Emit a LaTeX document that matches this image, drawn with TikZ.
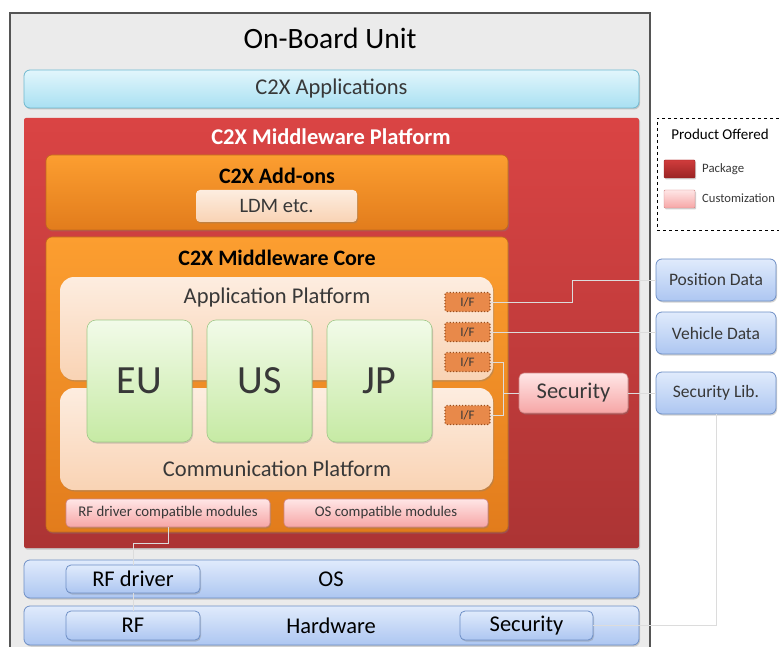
\documentclass[tikz,border=0pt]{standalone}
\usepackage{fontspec}
\setmainfont{Carlito}
\usetikzlibrary{shadows}
\definecolor{txt}{HTML}{383838}
\definecolor{conncol}{HTML}{DCDCDC}
\definecolor{cyanT}{HTML}{E2F6FC}
\definecolor{cyanB}{HTML}{A9E0F2}
\definecolor{cyanD}{HTML}{6FB8CF}
\definecolor{redT}{HTML}{DA4444}
\definecolor{redB}{HTML}{AC3434}
\definecolor{orangeT}{HTML}{FC9E30}
\definecolor{orangeB}{HTML}{E27C1C}
\definecolor{orangeD}{HTML}{C06A1C}
\definecolor{peachT}{HTML}{FDEDE0}
\definecolor{peachB}{HTML}{F9D3B4}
\definecolor{greenT}{HTML}{F2FBE9}
\definecolor{greenB}{HTML}{C6EAA4}
\definecolor{greenD}{HTML}{A0C888}
\definecolor{pinkT}{HTML}{FFE6E6}
\definecolor{pinkB}{HTML}{F6A6A6}
\definecolor{pinkD}{HTML}{D08484}
\definecolor{blueT}{HTML}{E0EBFC}
\definecolor{blueB}{HTML}{ADC6F1}
\definecolor{blueD}{HTML}{6E8FC6}
\definecolor{ifF}{HTML}{E8894A}
\definecolor{ifD}{HTML}{9A4E1C}
\definecolor{obuD}{HTML}{555555}
\definecolor{obuF}{HTML}{EBEBEB}
\definecolor{pkgT}{HTML}{D03C3C}
\definecolor{pkgB}{HTML}{9A2424}
\tikzset{
  box/.style={rounded corners=6pt, inner sep=0pt, outer sep=0pt, text=txt},
  shad/.style={drop shadow={opacity=0.35, shadow xshift=1pt, shadow yshift=-1.5pt}},
  cyanbox/.style={box, shad, draw=cyanD, top color=cyanT, bottom color=cyanB, line width=0.8pt},
  redbox/.style={box, shad, top color=redT, bottom color=redB},
  orangebox/.style={box, shad, draw=orangeD, top color=orangeT, bottom color=orangeB, line width=0.6pt},
  peachbox/.style={box, shad, top color=peachT, bottom color=peachB},
  greenbox/.style={box, shad, draw=greenD, top color=greenT, bottom color=greenB, line width=0.6pt},
  pinkbox/.style={box, shad, draw=pinkD, top color=pinkT, bottom color=pinkB, line width=0.6pt},
  bluebox/.style={box, shad, draw=blueD, top color=blueT, bottom color=blueB, line width=0.8pt},
  ifbox/.style={rounded corners=2pt, inner sep=0pt, outer sep=0pt, draw=ifD, fill=ifF, dotted, line width=1.1pt, minimum width=45pt, minimum height=19pt, font=\fontsize{13}{13}\selectfont, text=txt},
  conn/.style={draw=conncol, line width=0.9pt},
  lbl/.style={inner sep=0pt, text=txt},
}
\begin{document}
\begin{tikzpicture}[x=1pt,y=-1pt]
\useasboundingbox (0,0) rectangle (779,647);
\fill[white] (0,0) rectangle (779,647);
% outer unit
\node[draw=obuD, fill=obuF, line width=1.2pt, minimum width=640pt, minimum height=637pt, inner sep=0pt] (obu) at (330,331.5) {};
\node[lbl, font=\fontsize{29.5}{29.5}\selectfont, text=black] (obut) at (330,38) {On-Board Unit};
% applications
\node[cyanbox, minimum width=615pt, minimum height=38pt, font=\fontsize{22.5}{22.5}\selectfont] (apps) at (331.5,89) {C2X Applications};
% middleware platform
\node[redbox, rounded corners=2pt, minimum width=615pt, minimum height=430pt] (mwp) at (331.5,333) {};
\node[lbl, text=white, font=\bfseries\fontsize{22.5}{22.5}\selectfont] (mwpt) at (331,137) {C2X Middleware Platform};
% add-ons
\node[orangebox, minimum width=462pt, minimum height=75pt] (addons) at (277,192.5) {};
\node[lbl, text=black, font=\bfseries\fontsize{22}{22}\selectfont] (addonst) at (277,176) {C2X Add-ons};
\node[peachbox, rounded corners=4pt, minimum width=161pt, minimum height=32pt, font=\fontsize{20.5}{20.5}\selectfont] (ldm) at (276.5,206) {LDM etc.};
% core
\node[orangebox, minimum width=462pt, minimum height=295pt] (core) at (277,384.5) {};
\node[lbl, text=black, font=\bfseries\fontsize{22}{22}\selectfont] (coret) at (277,258) {C2X Middleware Core};
\node[peachbox, rounded corners=14pt, minimum width=433pt, minimum height=103pt] (appplat) at (276.5,328.5) {};
\node[lbl, font=\fontsize{22.5}{22.5}\selectfont] (appplatt) at (277,298) {Application Platform};
\node[peachbox, rounded corners=14pt, minimum width=433pt, minimum height=102pt] (complat) at (276.5,439) {};
\node[lbl, font=\fontsize{22.5}{22.5}\selectfont] (complatt) at (277,469) {Communication Platform};
\node[greenbox, rounded corners=9pt, minimum width=105pt, minimum height=122pt, font=\fontsize{40}{40}\selectfont] (eu) at (139.5,381) {EU};
\node[greenbox, rounded corners=9pt, minimum width=105pt, minimum height=122pt, font=\fontsize{40}{40}\selectfont] (us) at (259.5,381) {US};
\node[greenbox, rounded corners=9pt, minimum width=105pt, minimum height=122pt, font=\fontsize{40}{40}\selectfont] (jp) at (379.5,381) {JP};
\node[ifbox] (if1) at (467.5,302) {I/F};
\node[ifbox] (if2) at (467.5,332) {I/F};
\node[ifbox] (if3) at (467.5,362) {I/F};
\node[ifbox] (if4) at (467.5,415) {I/F};
\node[pinkbox, rounded corners=4pt, minimum width=204pt, minimum height=28pt, font=\fontsize{14.8}{14.8}\selectfont] (rfcm) at (168,513) {RF driver compatible modules};
\node[pinkbox, rounded corners=4pt, minimum width=204pt, minimum height=28pt, font=\fontsize{14.8}{14.8}\selectfont] (oscm) at (386,513) {OS compatible modules};
% security
\node[pinkbox, rounded corners=5pt, minimum width=109pt, minimum height=40pt, font=\fontsize{22.5}{22.5}\selectfont] (sec) at (573.5,393) {Security};
% OS and hardware
\node[bluebox, minimum width=615pt, minimum height=38pt] (osbar) at (331.5,579) {};
\node[lbl, text=black, font=\fontsize{22.5}{22.5}\selectfont] (ost) at (331,579) {OS};
\node[bluebox, rounded corners=5pt, minimum width=134pt, minimum height=28pt, font=\fontsize{22.5}{22.5}\selectfont, text=black] (rfdrv) at (133,579) {RF driver};
\node[bluebox, minimum width=615pt, minimum height=39pt] (hwbar) at (331.5,625.5) {};
\node[lbl, text=black, font=\fontsize{22.5}{22.5}\selectfont] (hwt) at (331,625.5) {Hardware};
\node[bluebox, rounded corners=5pt, minimum width=134pt, minimum height=29pt, font=\fontsize{22.5}{22.5}\selectfont, text=black] (rf) at (133,625.5) {RF};
\node[bluebox, rounded corners=5pt, minimum width=133pt, minimum height=29pt, font=\fontsize{22.5}{22.5}\selectfont, text=black] (hwsec) at (526.5,625.5) {Security};
% legend
\node[draw=black, dashed, line width=0.8pt, minimum width=128pt, minimum height=112pt, inner sep=0pt, fill=white] (legend) at (721,174) {};
\node[lbl, text=black, font=\fontsize{15}{15}\selectfont] (legt) at (720,134) {Product Offered};
\node[box, shad, rounded corners=1pt, draw=pkgB, top color=pkgT, bottom color=pkgB, minimum width=31pt, minimum height=18pt] (pkg) at (679.5,169) {};
\node[lbl, anchor=west, font=\fontsize{12.8}{12.8}\selectfont] (pkgt) at (702,169) {Package};
\node[box, shad, rounded corners=1pt, draw=pinkD, top color=pinkT, bottom color=pinkB, minimum width=31pt, minimum height=18pt] (cust) at (679.5,199) {};
\node[lbl, anchor=west, font=\fontsize{12.6}{12.6}\selectfont] (custt) at (702,198) {Customization};
% right boxes
\node[bluebox, minimum width=120pt, minimum height=42pt, font=\fontsize{17.5}{17.5}\selectfont] (pos) at (716,280) {Position Data};
\node[bluebox, minimum width=120pt, minimum height=42pt, font=\fontsize{17.5}{17.5}\selectfont] (veh) at (716,333) {Vehicle Data};
\node[bluebox, minimum width=120pt, minimum height=42pt, font=\fontsize{17.5}{17.5}\selectfont] (seclib) at (716,393) {Security Lib.};
% connectors
\draw[conn] (if1.east) -- ++(82,0) |- (pos.west);
\draw[conn] (if2.east) -- (if2.east -| veh.west);
\draw[conn] (if3.east) -- ++(13,0) coordinate (br) |- (if4.east);
\draw[conn] (sec.west) -- (sec.west -| br);
\draw[conn] (sec.east) -- (seclib.west);
\draw[conn] (seclib.south) |- (hwsec.east);
\draw[conn] (rfcm.south) -- ++(0,16) -| (rfdrv.north);
\draw[conn] (rfdrv.south) -- (rf.north);
\end{tikzpicture}
\end{document}
